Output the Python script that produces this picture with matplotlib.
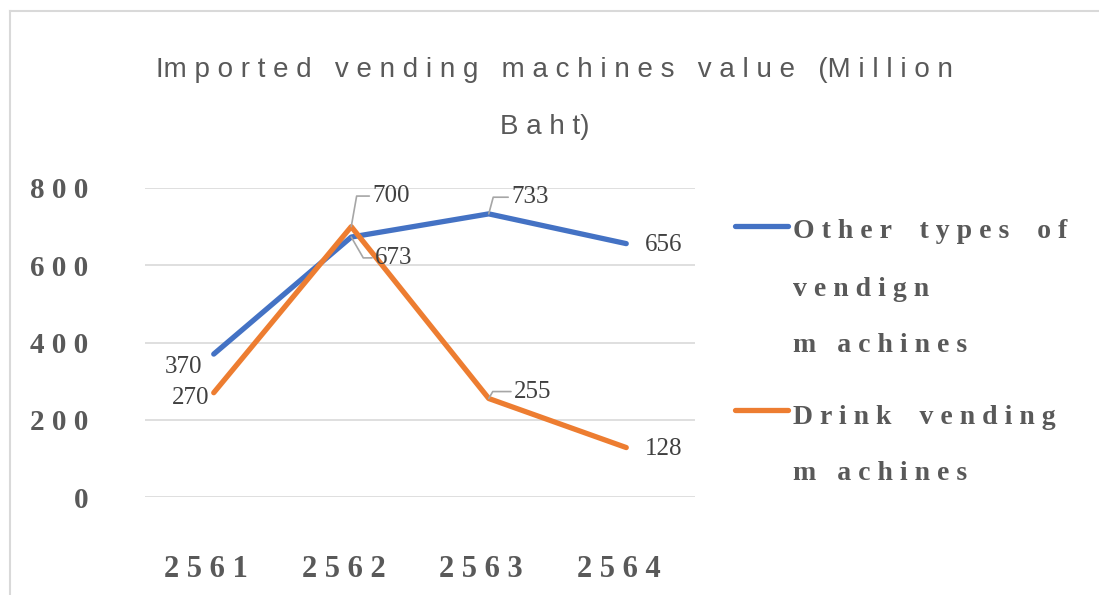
import matplotlib
matplotlib.use('Agg')
import matplotlib.pyplot as plt
from matplotlib.lines import Line2D

# data
years = ['2 5 6 1', '2 5 6 2', '2 5 6 3', '2 5 6 4']
other_types = [370, 673, 733, 656]
drink = [270, 700, 255, 128]
yticks = [0, 200, 400, 600, 800]
ytick_labels = ['0', '2 0 0', '4 0 0', '6 0 0', '8 0 0']

blue = '#4472C4'
orange = '#ED7D31'
gray = '#595959'
serif = 'Liberation Serif'

fig = plt.figure(figsize=(10.99, 5.95), dpi=100)
# chart frame (only left and top edges visible)
fig.add_artist(Line2D([9.5 / 1099, 9.5 / 1099], [0, 1 - 10.5 / 595], color='#D9D9D9', lw=1.5))
fig.add_artist(Line2D([9.5 / 1099, 1], [1 - 10.5 / 595] * 2, color='#D9D9D9', lw=1.5))

ax = fig.add_axes([145 / 1099, 1 - 497 / 595, 550 / 1099, 309 / 595])
x = range(len(years))
ax.plot(x, other_types, color=blue, lw=3.8, solid_capstyle='round', clip_on=False, zorder=3)
ax.plot(x, drink, color=orange, lw=3.8, solid_capstyle='round', clip_on=False, zorder=3)

ax.set_xlim(-0.5, 3.5)
ax.set_ylim(0, 800)
ax.set_yticks(yticks)
ax.set_yticklabels(ytick_labels)
ax.set_xticks(list(x))
ax.set_xticklabels([y + '  ' for y in years])
for s in ax.spines.values():
    s.set_visible(False)
ax.grid(axis='y', color='#D9D9D9', lw=1.2)
ax.set_axisbelow(True)
ax.tick_params(length=0, labelcolor=gray)
ax.tick_params(axis='y', pad=41)
ax.tick_params(axis='x', pad=42)
for lab in ax.get_yticklabels():
    lab.set_fontfamily(serif)
    lab.set_fontweight('bold')
    lab.set_fontsize(21)
for lab in ax.get_xticklabels():
    lab.set_fontfamily(serif)
    lab.set_fontweight('bold')
    lab.set_fontsize(22)

# data labels
lead = dict(arrowstyle='-', color='#A6A6A6', lw=1.2, shrinkA=0, shrinkB=0)
lbl = dict(fontsize=18, fontfamily=serif, color='#404040', textcoords='offset points')
ax.annotate(str(drink[1]), (1, drink[1]), xytext=(15, 22), ha='left', va='center',
            arrowprops=dict(lead, connectionstyle='angle,angleA=0,angleB=80'), **lbl)
ax.annotate(str(other_types[1]), (1, other_types[1]), xytext=(17, -15), ha='left', va='center',
            arrowprops=dict(lead, connectionstyle='angle,angleA=0,angleB=-60'), **lbl)
ax.annotate(str(other_types[2]), (2, other_types[2]), xytext=(16, 12), ha='left', va='center',
            arrowprops=dict(lead, connectionstyle='angle,angleA=0,angleB=75'), **lbl)
ax.annotate(str(drink[2]), (2, drink[2]), xytext=(18, 5), ha='left', va='center',
            arrowprops=dict(lead, connectionstyle='angle,angleA=0,angleB=60'), **lbl)
ax.annotate(str(other_types[0]), (0, other_types[0]), xytext=(-22, -9), ha='center', va='center', **lbl)
ax.annotate(str(drink[0]), (0, drink[0]), xytext=(-17, -4), ha='center', va='center', **lbl)
ax.annotate(str(other_types[3]), (3, other_types[3]), xytext=(27, -1), ha='center', va='center', **lbl)
ax.annotate(str(drink[3]), (3, drink[3]), xytext=(27, -1), ha='center', va='center', **lbl)

# title
tkw = dict(fontsize=20, color=gray, ha='center', va='center', fontfamily='Liberation Sans')
fig.text(554 / 1099, 1 - 70 / 595,
         'Im p o r t e d   v e n d i n g   m a c h i n e s   v a l u e   (M i l l i o n', **tkw)
fig.text(545 / 1099, 1 - 127 / 595, 'B a h t)', **tkw)

# legend drawn by hand
lkw = dict(fontsize=20, color=gray, fontweight='bold', fontfamily=serif, ha='left', va='center')
for y0, c in [(226, blue), (410, orange)]:
    fig.add_artist(Line2D([735 / 1099, 788 / 1099], [1 - y0 / 595] * 2, color=c, lw=3.8,
                          solid_capstyle='round'))
legend_lines = [('O t h e r    t y p e s    o f', 232), ('v e n d i g n', 290),
                ('m   a c h i n e s', 346), ('D r i n k    v e n d i n g', 417),
                ('m   a c h i n e s', 474)]
for t, y0 in legend_lines:
    fig.text(793 / 1099, 1 - y0 / 595, t, **lkw)

fig.savefig('out.png', dpi=100)
